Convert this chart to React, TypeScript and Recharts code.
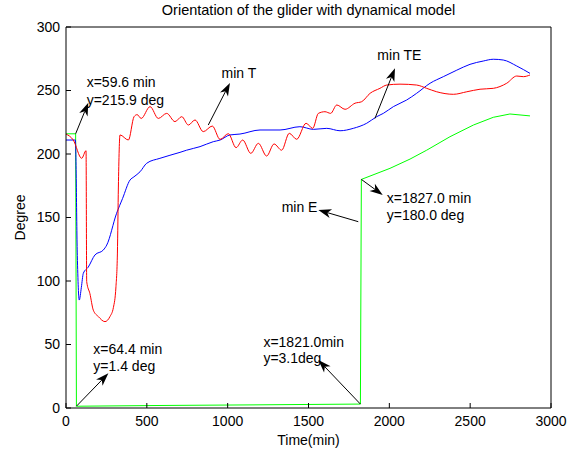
import { Line, LineChart, ReferenceDot, ReferenceLine, XAxis, YAxis } from 'recharts'

const FONT = '"Liberation Sans", Arial, Helvetica, sans-serif'

const xTicks = [0, 500, 1000, 1500, 2000, 2500, 3000]
const yTicks = [0, 50, 100, 150, 200, 250, 300]

// min T (red)
const minTTime = [
  0, 45, 97, 124, 128, 148, 169, 200, 241, 272, 293, 309, 318, 324, 334, 386, 421, 440, 465,
  520, 571, 623, 674, 716, 757, 798, 849, 905, 953, 1004, 1052, 1093, 1143, 1190, 1241, 1287,
  1334, 1381, 1427, 1485, 1526, 1561, 1602, 1637, 1675, 1726, 1788, 1829, 1881, 1942, 1984,
  2066, 2169, 2231, 2293, 2396, 2479, 2561, 2643, 2726, 2788, 2829, 2870,
]
const minTDeg = [
  215.7, 211, 196.6, 202.6, 99.5, 90, 77, 72, 68, 72, 79, 95.5, 122, 174, 215, 211, 229.4, 231,
  228, 237.3, 228, 232, 225.5, 229.4, 222.8, 226.8, 217.6, 222, 211.5, 216, 205, 211, 200.5,
  208.4, 198.4, 207.9, 203, 216.3, 211.6, 224.2, 220.2, 232, 233.3, 232, 238.6, 235.2, 240,
  241.2, 247.8, 251.7, 254.3, 255, 254.3, 251.7, 249, 247, 249, 251, 251.7, 255.7, 261.4,
  260.9, 262.2,
]

// min TE (blue)
const minTETime = [
  0, 58, 70, 82, 95, 107, 138, 179, 231, 252, 313, 350, 396, 420, 458, 499, 581, 705, 746,
  829, 911, 953, 1014, 1076, 1200, 1324, 1447, 1530, 1613, 1695, 1777, 1860, 1922, 1963,
  2025, 2107, 2169, 2252, 2334, 2417, 2499, 2581, 2643, 2705, 2788, 2870,
]
const minTEDeg = [
  211, 211, 120, 85, 95, 106, 111, 120.5, 124.4, 128.3, 153.3, 165, 179.5, 182, 186, 192.7,
  196.6, 201.3, 203, 205.8, 209.7, 211, 215, 215.7, 218.9, 218.9, 221.5, 219.4, 220.2, 218.3,
  220.2, 224.2, 229.4, 232, 237.3, 242.5, 247.8, 255.7, 260.9, 266, 270.6, 273.2, 274.6, 274,
  269.3, 263.5,
]

// min E (green)
const minETime = [0, 59.6, 64.4, 600, 1200, 1821, 1827, 2004, 2128, 2231, 2375, 2520, 2643, 2746, 2870]
const minEDeg = [215.9, 215.9, 1.4, 2, 2.5, 3.1, 180, 188.7, 196, 203, 213.6, 222.8, 228.9, 231.5, 230]

// annotations: text lines (left x, middle y) and arrows (tail -> head), in data units
const noteText = [
  'x=59.6 min', 'y=215.9 deg', 'min T', 'min TE', 'x=1827.0 min', 'y=180.0 deg', 'min E',
  'x=1821.0min', 'y=3.1deg', 'x=64.4 min', 'y=1.4 deg',
]
const noteAt = [
  [128, 257], [128, 242.5], [962, 263.5], [1926, 278], [1984, 165.1], [1984, 152], [1334, 158.5],
  [1221, 52.2], [1221, 39.1], [169, 46.2], [169, 33.1],
]
const arrowFrom = [[59.6, 215.9], [880, 222.8], [1911, 228], [1827, 180], [1808, 146.7], [1821, 3.1], [64.4, 1.4]]
const arrowTo = [[138, 240.4], [1014, 256], [2035, 267.5], [1959, 167.7], [1561, 155.9], [1561, 37.8], [262, 27.3]]

const zip = (t: number[], v: number[]) => t.map((x, i) => ({ t: x, v: v[i] }))
const minTData = zip(minTTime, minTDeg)
const minTEData = zip(minTETime, minTEDeg)
const minEData = zip(minETime, minEDeg)

function Arrow(props: any) {
  const { x1, y1, x2, y2 } = props
  const dx = x2 - x1
  const dy = y2 - y1
  const len = Math.hypot(dx, dy) || 1
  const ux = dx / len
  const uy = dy / len
  const L = 13
  const W = 4.5
  const bx = x2 - ux * L
  const by = y2 - uy * L
  const nx = x2 - ux * L * 0.72
  const ny = y2 - uy * L * 0.72
  const pts = [
    [x2, y2],
    [bx - uy * W, by + ux * W],
    [nx, ny],
    [bx + uy * W, by - ux * W],
  ]
    .map((p) => p.join(','))
    .join(' ')
  return (
    <g>
      <line x1={x1} y1={y1} x2={nx} y2={ny} stroke="#000" strokeWidth={1} />
      <polygon points={pts} fill="#000" />
    </g>
  )
}

const noteShape = (text: string) => (p: any) => (
  <text x={p.cx} y={p.cy} dy={5} fontSize={14} fontFamily={FONT} fill="#000">
    {text}
  </text>
)

export default function App() {
  return (
    <div style={{ position: 'absolute', left: 0, top: 0, width: 580, height: 453, background: '#fff' }}>
      <LineChart
        width={580}
        height={453}
        margin={{ top: 26, right: 28, bottom: 5, left: 10 }}
        style={{ fontFamily: FONT }}
      >
        <XAxis
          dataKey="t"
          type="number"
          domain={[0, 3000]}
          ticks={xTicks}
          interval={0}
          height={40}
          tickSize={-5}
          tickMargin={13}
          stroke="#000"
          tick={{ fill: '#000', fontSize: 14 }}
          label={{ value: 'Time(min)', position: 'insideBottom', offset: 3, fill: '#000', fontSize: 14 }}
        />
        <XAxis
          xAxisId="top"
          orientation="top"
          type="number"
          domain={[0, 3000]}
          ticks={xTicks}
          interval={0}
          height={1}
          tickSize={-5}
          tick={false}
          stroke="#000"
          label={{
            value: 'Orientation of the glider with dynamical model',
            position: 'top',
            offset: 11,
            fill: '#000',
            fontSize: 14.5,
          }}
        />
        <YAxis
          type="number"
          domain={[0, 300]}
          ticks={yTicks}
          interval={0}
          width={56}
          tickSize={-5}
          tickMargin={11}
          stroke="#000"
          tick={{ fill: '#000', fontSize: 14 }}
          label={{
            content: (p: any) => {
              const vb = p.viewBox
              const cx = 20
              const cy = vb.y + vb.height / 2
              return (
                <text
                  x={cx}
                  y={cy}
                  transform={`rotate(-90 ${cx} ${cy})`}
                  textAnchor="middle"
                  dy={5}
                  fontSize={14}
                  fontFamily={FONT}
                  fill="#000"
                >
                  Degree
                </text>
              )
            },
          }}
        />
        <YAxis
          yAxisId="right"
          orientation="right"
          type="number"
          domain={[0, 300]}
          ticks={yTicks}
          interval={0}
          width={1}
          tickSize={-5}
          tick={false}
          stroke="#000"
        />
        <Line data={minEData} dataKey="v" type="linear" stroke="#00ff00" strokeWidth={1} dot={false} activeDot={false} isAnimationActive={false} />
        <Line data={minTEData} dataKey="v" type="monotone" stroke="#0000ff" strokeWidth={1} dot={false} activeDot={false} isAnimationActive={false} />
        <Line data={minTData} dataKey="v" type="monotone" stroke="#ff0000" strokeWidth={1} dot={false} activeDot={false} isAnimationActive={false} />
        {arrowFrom.map((a, i) => (
          <ReferenceLine
            key={`arrow-${i}`}
            segment={[
              { x: a[0], y: a[1] },
              { x: arrowTo[i][0], y: arrowTo[i][1] },
            ]}
            stroke="#000"
            shape={Arrow}
          />
        ))}
        {noteText.map((s, i) => (
          <ReferenceDot key={`note-${i}`} x={noteAt[i][0]} y={noteAt[i][1]} r={0} shape={noteShape(s)} />
        ))}
      </LineChart>
    </div>
  )
}
